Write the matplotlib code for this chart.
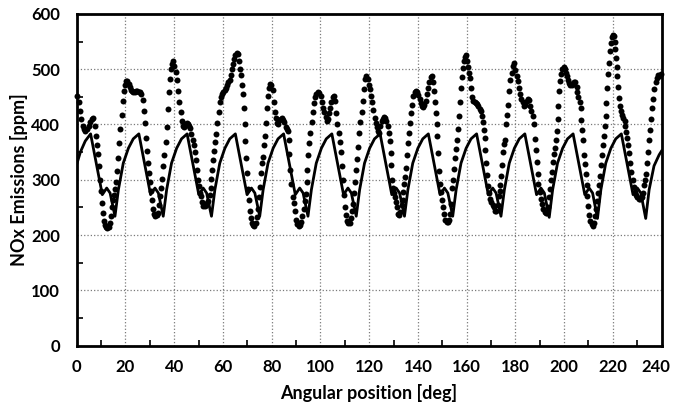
import matplotlib
matplotlib.use("Agg")
import matplotlib.pyplot as plt
import matplotlib.transforms as mtransforms
from matplotlib.ticker import MultipleLocator

plt.rcParams['font.family'] = ['Lato', 'DejaVu Sans']
plt.rcParams['font.weight'] = 'bold'

# model curve (solid line)
model_angle = [
    0.0, 1.5, 3.5,
    5.7, 7.5, 9.6, 10.5, 12.3, 13.7, 15.7, 17.1, 19.1, 21.2, 23.2,
    25.5, 27.3, 29.4, 30.3, 32.1, 33.5, 35.5, 36.9, 38.9, 41.0, 43.0,
    45.3, 47.1, 49.2, 50.1, 51.9, 53.3, 55.3, 56.7, 58.7, 60.8, 62.8,
    65.1, 66.9, 69.0, 69.9, 71.7, 73.1, 75.1, 76.5, 78.5, 80.6, 82.6,
    84.9, 86.7, 88.8, 89.7, 91.5, 92.9, 94.9, 96.3, 98.3, 100.4, 102.4,
    104.7, 106.5, 108.6, 109.5, 111.3, 112.7, 114.7, 116.1, 118.1, 120.2, 122.2,
    124.5, 126.3, 128.4, 129.3, 131.1, 132.5, 134.5, 135.9, 137.9, 140.0, 142.0,
    144.3, 146.1, 148.2, 149.1, 150.9, 152.3, 154.3, 155.7, 157.7, 159.8, 161.8,
    164.1, 165.9, 168.0, 168.9, 170.7, 172.1, 174.1, 175.5, 177.5, 179.6, 181.6,
    183.9, 185.7, 187.8, 188.7, 190.5, 191.9, 193.9, 195.3, 197.3, 199.4, 201.4,
    203.7, 205.5, 207.6, 208.5, 210.3, 211.7, 213.7, 215.1, 217.1, 219.2, 221.2,
    223.5, 225.3, 227.4, 228.3, 230.1, 231.5, 233.5, 234.9, 236.9, 239.0, 240.0,
]
model_nox = [
    328, 350, 370,
    383, 342, 294, 273, 285, 276, 234, 282, 330, 357, 374,
    383, 342, 294, 273, 285, 276, 234, 282, 330, 357, 374,
    383, 342, 294, 273, 285, 276, 234, 282, 330, 357, 374,
    383, 342, 294, 273, 285, 276, 234, 282, 330, 357, 374,
    383, 342, 294, 273, 285, 276, 234, 282, 330, 357, 374,
    383, 342, 294, 273, 285, 276, 234, 282, 330, 357, 374,
    383, 342, 294, 273, 285, 276, 234, 282, 330, 357, 374,
    383, 342, 294, 273, 285, 276, 234, 282, 330, 357, 374,
    383, 342, 294, 273, 285, 276, 234, 282, 330, 357, 374,
    383, 342, 294, 273, 285, 276, 232, 282, 330, 357, 374,
    383, 342, 294, 273, 285, 276, 230, 282, 330, 357, 374,
    383, 342, 294, 273, 285, 276, 230, 282, 325, 345, 352,
]

# measured values (dots)
meas_angle = [
    0.3, 0.8, 1.3, 1.8, 2.4, 3.0, 3.6, 4.3, 4.9, 5.5, 6.1, 6.7, 7.3, 7.9, 8.4, 8.9, 9.3, 9.7,
    10.1, 10.5, 10.8, 11.2, 11.7, 12.2, 12.6, 13.1, 13.5, 14.0, 14.5, 14.9, 15.4, 15.8, 16.1,
    16.5, 16.9, 17.4, 17.9, 18.4, 18.8, 19.3, 19.8,
    20.3, 20.8, 21.3, 21.8, 22.3, 22.8, 23.3, 23.8, 24.4, 24.9, 25.4, 26.0, 26.5, 27.0, 27.5,
    27.9, 28.3, 28.8, 29.2, 29.6, 30.0, 30.4, 30.8, 31.2, 31.7, 32.2, 32.8, 33.3, 33.8, 34.2,
    34.7, 35.2, 35.6, 36.0, 36.5, 36.9, 37.3, 37.7, 38.2, 38.7, 39.2, 39.6,
    40.1, 40.6, 41.1, 41.6, 42.1, 42.6, 43.1, 43.6, 44.1, 44.6, 45.1, 45.6, 46.1, 46.6, 47.1,
    47.6, 48.1, 48.6, 49.0, 49.4, 49.8, 50.2, 50.6, 51.0, 51.5, 52.0, 52.5, 53.0, 53.5, 54.0,
    54.5, 54.9, 55.3, 55.7, 56.1, 56.5, 56.9, 57.3, 57.7, 58.2, 58.7, 59.2, 59.7,
    60.2, 60.7, 61.2, 61.7, 62.2, 62.7, 63.2, 63.6, 64.1, 64.6, 65.1, 65.6, 66.1, 66.6, 67.0,
    67.4, 67.8, 68.2, 68.6, 68.9, 69.2, 69.5, 69.9, 70.3, 70.7, 71.0, 71.4, 71.9, 72.4, 72.9,
    73.4, 73.8, 74.2, 74.6, 75.1, 75.6, 76.0, 76.4, 76.8, 77.2, 77.6, 78.0, 78.4, 78.9, 79.4, 79.9,
    80.4, 80.8, 81.2, 81.7, 82.2, 82.7, 83.2, 83.7, 84.2, 84.7, 85.2, 85.7, 86.2, 86.7, 87.0,
    87.3, 87.7, 88.1, 88.6, 89.1, 89.6, 90.1, 90.6, 91.1, 91.6, 92.1, 92.6, 93.1, 93.5, 93.9,
    94.3, 94.7, 95.1, 95.5, 95.9, 96.4, 96.9, 97.3, 97.8, 98.3, 98.9, 99.5,
    100.1, 100.6, 101.1, 101.6, 102.1, 102.6, 103.0, 103.5, 104.0, 104.5, 105.0, 105.6, 106.1,
    106.6, 107.0, 107.5, 108.0, 108.4, 108.8, 109.2, 109.6, 110.0, 110.5, 111.0, 111.5, 112.0,
    112.5, 112.9, 113.3, 113.8, 114.3, 114.7, 115.1, 115.5, 115.9, 116.4, 116.9, 117.4, 117.9,
    118.4, 118.9, 119.4, 119.9,
    120.4, 120.9, 121.3, 121.7, 122.2, 122.7, 123.2, 123.7, 124.1, 124.6, 125.1, 125.6, 126.1,
    126.6, 127.1, 127.6, 128.1, 128.5, 128.8, 129.1, 129.4, 129.8, 130.2, 130.6, 131.0, 131.4,
    131.8, 132.3, 132.8, 133.3, 133.7, 134.1, 134.5, 134.9, 135.3, 135.6, 136.0, 136.4, 136.8,
    137.2, 137.7, 138.2, 138.7, 139.2, 139.7,
    140.2, 140.7, 141.2, 141.7, 142.2, 142.7, 143.2, 143.7, 144.2, 144.7, 145.2, 145.6, 146.1,
    146.6, 147.0, 147.3, 147.7, 148.0, 148.3, 148.6, 149.0, 149.4, 149.8, 150.3, 150.8, 151.3,
    151.8, 152.3, 152.8, 153.2, 153.6, 154.0, 154.5, 154.9, 155.3, 155.7, 156.1, 156.5, 156.9,
    157.2, 157.6, 158.0, 158.4, 158.9, 159.3, 159.7,
    160.1, 160.5, 160.9, 161.4, 161.8, 162.3, 162.8, 163.3, 163.8, 164.3, 164.8, 165.3, 165.8,
    166.3, 166.7, 167.1, 167.4, 167.7, 168.0, 168.3, 168.7, 169.2, 169.7, 170.2, 170.7, 171.2,
    171.7, 172.2, 172.7, 173.1, 173.5, 173.9, 174.3, 174.7, 175.1, 175.5, 175.9, 176.3, 176.7,
    177.1, 177.5, 178.0, 178.5, 179.0, 179.5,
    180.0, 180.5, 181.0, 181.5, 182.0, 182.5, 183.0, 183.6, 184.1, 184.6, 185.1, 185.6, 186.1,
    186.6, 187.1, 187.5, 187.9, 188.3, 188.7, 189.1, 189.5, 190.0, 190.5, 191.0, 191.5, 192.0,
    192.5, 193.0, 193.4, 193.8, 194.1, 194.5, 194.9, 195.3, 195.7, 196.1, 196.5, 196.9, 197.3,
    197.7, 198.1, 198.5, 198.9, 199.3, 199.8,
    200.3, 200.7, 201.1, 201.6, 202.1, 202.6, 203.1, 203.6, 204.1, 204.6, 205.1, 205.5, 205.9,
    206.4, 206.8, 207.1, 207.5, 207.8, 208.1, 208.5, 209.0, 209.3, 209.6, 209.9, 210.3, 210.8,
    211.3, 211.8, 212.3, 212.7, 213.1, 213.5, 213.9, 214.3, 214.7, 215.0, 215.4, 215.8, 216.2,
    216.6, 217.0, 217.4, 217.7, 218.1, 218.4, 218.7, 219.1, 219.5, 219.9,
    220.3, 220.7, 221.0, 221.3, 221.6, 221.9, 222.2, 222.6, 223.0, 223.4, 223.8, 224.3, 224.8,
    225.2, 225.6, 226.0, 226.4, 226.8, 227.2, 227.6, 228.1, 228.6, 229.1, 229.6, 230.1, 230.6,
    231.1, 231.6, 232.1, 232.5, 232.9, 233.3, 233.7, 234.1, 234.5, 234.9, 235.3, 235.7, 236.1,
    236.6, 237.1, 237.6, 238.1, 238.6, 239.1, 239.6,
]
meas_nox = [
    452, 440, 425, 410, 398, 391, 388, 391, 398, 405, 410, 411, 397, 380, 363, 346, 324, 300,
    280, 258, 240, 225, 218, 214, 212, 215, 222, 235, 250, 263, 272, 284, 296,
    316, 340, 366, 392, 418, 442, 460, 472,
    478, 478, 474, 468, 463, 460, 458, 459, 461, 460, 458, 458, 455, 444, 424,
    402, 376, 352, 330, 312, 296, 280, 264, 248, 238, 235, 236, 240, 255, 270,
    285, 302, 325, 345, 369, 396, 428, 458, 482, 500, 510, 514,
    506, 495, 480, 460, 440, 422, 406, 398, 396, 400, 402, 400, 398, 394, 383,
    372, 363, 350, 335, 318, 300, 288, 276, 270, 260, 253, 252, 254, 258, 262,
    272, 285, 302, 318, 335, 352, 368, 382, 402, 422, 440, 450, 455,
    458, 462, 466, 471, 476, 481, 489, 500, 510, 518, 526, 530, 528, 514, 500,
    490, 472, 455, 430, 400, 370, 340, 312, 284, 264, 244, 230, 222, 218, 217,
    222, 232, 248, 268, 286, 312, 330, 342, 362, 380, 402, 430, 452, 466, 474, 472,
    462, 440, 422, 412, 402, 400, 408, 410, 411, 408, 404, 396, 391, 388, 372,
    346, 318, 292, 268, 258, 244, 228, 220, 217, 218, 224, 234, 248, 262, 275,
    296, 318, 344, 366, 385, 404, 422, 438, 450, 456, 459, 457,
    452, 440, 430, 423, 413, 406, 410, 420, 430, 440, 450, 452, 442,
    420, 400, 384, 368, 350, 325, 300, 272, 250, 236, 226, 221, 222,
    230, 244, 256, 276, 296, 318, 338, 360, 384, 404, 422, 442, 464,
    482, 488, 482, 472,
    464, 452, 440, 427, 412, 402, 396, 388, 384, 398, 406, 410, 414,
    412, 406, 398, 385, 370, 348, 326, 300, 285, 276, 268, 260, 250,
    238, 236, 242, 254, 264, 278, 292, 305, 322, 344, 366, 384, 402,
    420, 436, 452, 458, 460, 458,
    454, 446, 438, 434, 432, 436, 442, 456, 466, 476, 485, 488, 476,
    460, 440, 420, 400, 380, 348, 316, 292, 278, 264, 250, 238, 228,
    224, 224, 228, 238, 256, 285, 300, 320, 340, 356, 372, 392, 415,
    440, 466, 486, 502, 514, 522, 526,
    514, 504, 494, 484, 466, 450, 443, 441, 439, 437, 433, 428, 424,
    416, 404, 390, 376, 354, 330, 308, 288, 276, 266, 260, 255, 250,
    243, 244, 255, 270, 280, 290, 306, 326, 350, 364, 372, 400, 418,
    436, 460, 480, 494, 506, 512,
    498, 488, 478, 466, 455, 446, 440, 434, 436, 442, 446, 444, 434,
    425, 415, 400, 374, 354, 332, 310, 292, 277, 266, 256, 248, 242,
    239, 240, 250, 268, 284, 300, 314, 332, 346, 358, 372, 388, 410,
    434, 460, 478, 492, 500, 504,
    500, 494, 488, 480, 475, 472, 472, 474, 477, 476, 468, 458, 450,
    440, 430, 408, 390, 372, 344, 328, 310, 290, 270, 252, 236, 226,
    220, 216, 222, 234, 248, 262, 276, 290, 306, 326, 344, 362, 380,
    398, 416, 438, 466, 492, 512, 532, 548, 558, 562,
    560, 550, 536, 520, 504, 488, 468, 448, 434, 424, 418, 412, 406,
    398, 386, 376, 362, 348, 330, 314, 300, 286, 278, 272, 268, 266,
    266, 267, 268, 276, 290, 300, 310, 330, 350, 372, 390, 410, 430,
    446, 464, 476, 484, 490, 488, 492,
]

x_ticks = [0, 20, 40, 60, 80, 100, 120, 140, 160, 180, 200, 220, 240]
y_ticks = [0, 100, 200, 300, 400, 500, 600]

fig = plt.figure(figsize=(6.73, 4.09), dpi=100)
ax = fig.add_axes([0.114, 0.155, 0.869, 0.811])

ax.plot(model_angle, model_nox, color='black', lw=2.0, zorder=3)
ax.plot(meas_angle, meas_nox, 'o', color='black', ms=4.3, mew=0, zorder=4,
        clip_on=False)

ax.set_xlim(0, 240)
ax.set_ylim(0, 600)
ax.set_xticks(x_ticks)
ax.set_yticks(y_ticks)
ax.xaxis.set_minor_locator(MultipleLocator(10))
ax.yaxis.set_minor_locator(MultipleLocator(50))
ax.tick_params(which='both', direction='in', width=1.2, labelsize=12)
ax.tick_params(which='major', length=0)
ax.tick_params(which='minor', length=4)
ax.tick_params(axis='x', pad=10)
ax.tick_params(axis='y', pad=12)
ax.tick_params(top=False, right=False)

# pull the last x label in a little so it stays on the canvas
last = ax.get_xticklabels()[-1]
last.set_transform(last.get_transform() +
                   mtransforms.ScaledTranslation(-4 / 72, 0, fig.dpi_scale_trans))

ax.grid(True, which='major', linestyle=':', color='#7a7a7a', lw=0.9)
for s in ax.spines.values():
    s.set_linewidth(2.0)
    s.set_zorder(5)

ax.set_xlabel('Angular position [deg]', fontsize=13, fontweight='bold', labelpad=6)
ax.set_ylabel('NOx Emissions [ppm]', fontsize=13, fontweight='bold', labelpad=2)

fig.savefig('out.png', dpi=100)
